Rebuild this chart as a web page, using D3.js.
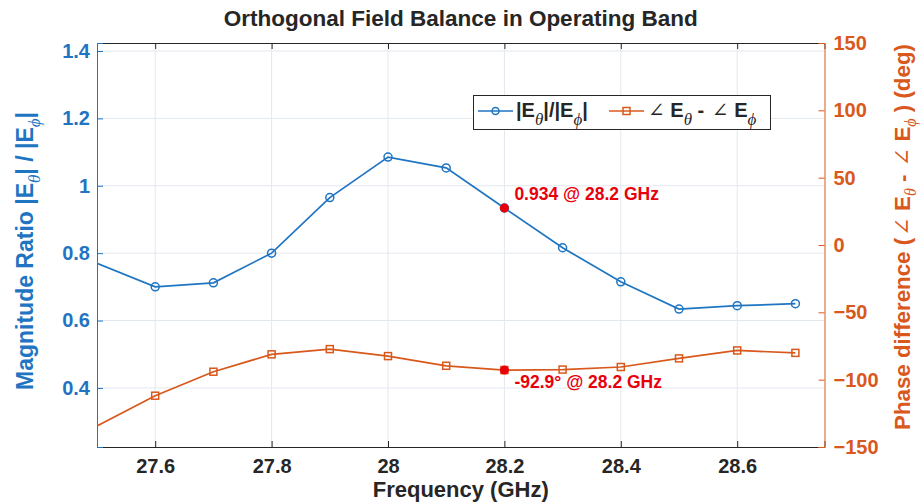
<!DOCTYPE html>
<html>
<head>
<meta charset="utf-8">
<script src="https://cdn.jsdelivr.net/npm/d3@7"></script>
<style>
  html, body { margin: 0; padding: 0; background: #fff; }
  svg { display: block; font-family: Arial, "Liberation Sans", Helvetica, sans-serif; }
</style>
</head>
<body>
<svg id="chart" width="921" height="504"></svg>
<script>
// data
const freq = [27.5, 27.6, 27.7, 27.8, 27.9, 28.0, 28.1, 28.2, 28.3, 28.4, 28.5, 28.6, 28.7];
const magRatio = [0.77, 0.70, 0.712, 0.80, 0.965, 1.085, 1.053, 0.934, 0.816, 0.715, 0.634, 0.644, 0.65];
const phaseDiff = [-134.4, -111.9, -94.1, -81.2, -77.3, -82.5, -89.7, -92.9, -92.5, -90.6, -84.2, -78.3, -80.1];
const xTicks = [27.6, 27.8, 28.0, 28.2, 28.4, 28.6];
const magTicks = [0.4, 0.6, 0.8, 1.0, 1.2, 1.4];
const phaseTicks = [-150, -100, -50, 0, 50, 100, 150];
const markFreq = 28.2;

const blue = '#1f75c2', orange = '#D9581C', red = '#E8000B', dark = '#262626', grid = '#e3e8ef';
const serif = '"Liberation Serif", "DejaVu Serif", serif';

const svg = d3.select('#chart');
const plot = { left: 97, right: 824.5, top: 43, bottom: 447 };

const x = d3.scaleLinear().domain([27.5, 28.75]).range([plot.left, plot.right]);
const yL = d3.scaleLinear().domain([0.2247, 1.4237]).range([plot.bottom, plot.top]);
const yR = d3.scaleLinear().domain([-150, 150]).range([plot.bottom, plot.top]);

/**
 * Grid
 */
svg.append('g').selectAll('line').data(xTicks).join('line')
  .attr('x1', d => x(d)).attr('x2', d => x(d))
  .attr('y1', plot.top).attr('y2', plot.bottom)
  .attr('stroke', grid).attr('stroke-width', 1);
svg.append('g').selectAll('line').data(magTicks).join('line')
  .attr('x1', plot.left).attr('x2', plot.right)
  .attr('y1', d => yL(d)).attr('y2', d => yL(d))
  .attr('stroke', grid).attr('stroke-width', 1);

/**
 * Axes (MATLAB style, ticks pointing in)
 */
const tickFont = g => g.selectAll('text')
  .attr('font-size', 20).attr('font-weight', 'bold');

const xAxis = svg.append('g')
  .attr('transform', `translate(0,${plot.bottom})`)
  .call(d3.axisBottom(x).tickValues(xTicks).tickSize(-6).tickPadding(12).tickFormat(d3.format('~g')));
xAxis.select('.domain').attr('stroke', dark);
xAxis.selectAll('line').attr('stroke', dark);
xAxis.selectAll('text').attr('fill', dark);
tickFont(xAxis);

const xTop = svg.append('g')
  .attr('transform', `translate(0,${plot.top})`)
  .call(d3.axisTop(x).tickValues(xTicks).tickSize(-6).tickFormat(''));
xTop.select('.domain').attr('stroke', dark);
xTop.selectAll('line').attr('stroke', dark);

const leftAxis = svg.append('g')
  .attr('transform', `translate(${plot.left},0)`)
  .call(d3.axisLeft(yL).tickValues(magTicks).tickSize(-6).tickPadding(7).tickFormat(d3.format('~g')));
leftAxis.select('.domain').attr('stroke', blue);
leftAxis.selectAll('line').attr('stroke', blue);
leftAxis.selectAll('text').attr('fill', blue);
tickFont(leftAxis);

const rightAxis = svg.append('g')
  .attr('transform', `translate(${plot.right},0)`)
  .call(d3.axisRight(yR).tickValues(phaseTicks).tickSize(-6).tickPadding(9).tickFormat(d3.format('~g')));
rightAxis.select('.domain').attr('stroke', orange);
rightAxis.selectAll('line').attr('stroke', orange);
rightAxis.selectAll('text').attr('fill', orange);
tickFont(rightAxis);

/**
 * Series
 */
svg.append('clipPath').attr('id', 'clip')
  .append('rect').attr('x', plot.left).attr('y', plot.top)
  .attr('width', plot.right - plot.left).attr('height', plot.bottom - plot.top);

const magLine = d3.line().x((d, i) => x(freq[i])).y(d => yL(d));
const phLine = d3.line().x((d, i) => x(freq[i])).y(d => yR(d));

svg.append('path').datum(magRatio)
  .attr('d', magLine).attr('fill', 'none')
  .attr('stroke', blue).attr('stroke-width', 1.7).attr('clip-path', 'url(#clip)');
svg.append('path').datum(phaseDiff)
  .attr('d', phLine).attr('fill', 'none')
  .attr('stroke', orange).attr('stroke-width', 1.7).attr('clip-path', 'url(#clip)');

// markers (none sits on the left edge in the reference)
const idx = freq.map((f, i) => i).filter(i => freq[i] > x.domain()[0]);

svg.append('g').selectAll('circle').data(idx).join('circle')
  .attr('cx', i => x(freq[i])).attr('cy', i => yL(magRatio[i])).attr('r', 4)
  .attr('fill', 'none').attr('stroke', blue).attr('stroke-width', 1.5);
svg.append('g').selectAll('rect').data(idx).join('rect')
  .attr('x', i => x(freq[i]) - 3.5).attr('y', i => yR(phaseDiff[i]) - 3.5)
  .attr('width', 7).attr('height', 7)
  .attr('fill', 'none').attr('stroke', orange).attr('stroke-width', 1.5);

/**
 * Highlighted points at 28.2 GHz
 */
const k = freq.indexOf(markFreq);
svg.append('circle').attr('cx', x(markFreq)).attr('cy', yL(magRatio[k])).attr('r', 4.5).attr('fill', red);
svg.append('circle').attr('cx', x(markFreq)).attr('cy', yR(phaseDiff[k])).attr('r', 4.5).attr('fill', red);

svg.append('text')
  .attr('x', x(markFreq) + 10).attr('y', yL(magRatio[k]) - 8)
  .attr('fill', red).attr('font-size', 17.5).attr('font-weight', 'bold')
  .text(`${magRatio[k]} @ ${markFreq} GHz`);
svg.append('text')
  .attr('x', x(markFreq) + 10).attr('y', yR(phaseDiff[k]) + 18)
  .attr('fill', red).attr('font-size', 17.5).attr('font-weight', 'bold')
  .text(`${phaseDiff[k]}° @ ${markFreq} GHz`);

/**
 * Text with greek subscripts: segments are [text, kind]
 * kind 0 = plain, 1 = italic subscript, 2 = thin angle sign
 */
function richText(sel, segs, gSize, drop) {
  let down = false;
  segs.forEach(s => {
    const t = sel.append('tspan').text(s[0]);
    if (s[1] === 1) {
      t.attr('dy', drop).attr('font-family', serif).attr('font-style', 'italic')
        .attr('font-weight', 'normal').attr('font-size', gSize);
      down = true;
      return;
    }
    if (down) { t.attr('dy', -drop); down = false; }
    if (s[1] === 2) t.attr('font-weight', 'normal').attr('font-family', serif).attr('dx', 2);
  });
}

svg.append('text')
  .attr('x', (plot.left + plot.right) / 2).attr('y', 26)
  .attr('text-anchor', 'middle').attr('font-size', 22.5).attr('font-weight', 'bold').attr('fill', dark)
  .text('Orthogonal Field Balance in Operating Band');

svg.append('text')
  .attr('x', (plot.left + plot.right) / 2).attr('y', 497)
  .attr('text-anchor', 'middle').attr('font-size', 22).attr('font-weight', 'bold').attr('fill', dark)
  .text('Frequency (GHz)');

const yLabel = svg.append('text')
  .attr('transform', `translate(33,251) rotate(-90)`)
  .attr('text-anchor', 'middle').attr('font-size', 23).attr('font-weight', 'bold').attr('fill', blue);
richText(yLabel, [['Magnitude Ratio |E', 0], ['θ', 1], ['| / |E', 0], ['ϕ', 1], ['|', 0]], 17, 7);

const y2Label = svg.append('text')
  .attr('transform', `translate(910,237) rotate(-90)`)
  .attr('text-anchor', 'middle').attr('font-size', 22.3).attr('font-weight', 'bold').attr('fill', orange);
richText(y2Label, [['Phase difference (', 0], ['∠', 2], [' E', 0], ['θ', 1], [' - ', 0], ['∠', 2], [' E', 0], ['ϕ', 1], [' ) (deg)', 0]], 16, 6);

/**
 * Legend
 */
const legend = svg.append('g');
legend.append('rect')
  .attr('x', 473.5).attr('y', 95.5).attr('width', 297).attr('height', 34)
  .attr('fill', '#fff').attr('stroke', dark).attr('stroke-width', 1);

legend.append('line').attr('x1', 478).attr('x2', 513).attr('y1', 111).attr('y2', 111)
  .attr('stroke', blue).attr('stroke-width', 1.7);
legend.append('circle').attr('cx', 495.5).attr('cy', 111).attr('r', 3.5)
  .attr('fill', 'none').attr('stroke', blue).attr('stroke-width', 1.5);
const l1 = legend.append('text').attr('x', 516).attr('y', 117)
  .attr('font-size', 20).attr('font-weight', 'bold').attr('fill', dark);
richText(l1, [['|E', 0], ['θ', 1], ['|/|E', 0], ['ϕ', 1], ['|', 0]], 17, 8);

legend.append('line').attr('x1', 609).attr('x2', 644).attr('y1', 111).attr('y2', 111)
  .attr('stroke', orange).attr('stroke-width', 1.7);
legend.append('rect').attr('x', 623).attr('y', 107.5).attr('width', 7).attr('height', 7)
  .attr('fill', 'none').attr('stroke', orange).attr('stroke-width', 1.5);
const l2 = legend.append('text').attr('x', 646).attr('y', 117)
  .attr('font-size', 20).attr('font-weight', 'bold').attr('fill', dark);
richText(l2, [['∠', 2], [' E', 0], ['θ', 1], [' - ', 0], ['∠', 2], [' E', 0], ['ϕ', 1]], 17, 8);
</script>
</body>
</html>
